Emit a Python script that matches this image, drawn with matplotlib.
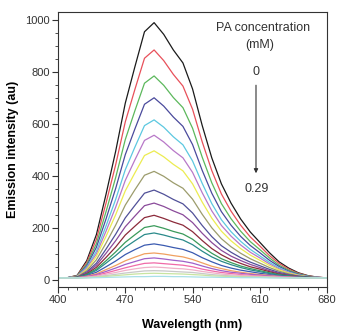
import matplotlib
matplotlib.use("Agg")
import matplotlib.pyplot as plt
from matplotlib.ticker import MultipleLocator

wavelength = list(range(400, 681, 10))

c01 = [8, 9, 18, 75, 175, 330, 495, 680, 820, 955, 990, 945, 885, 835, 735, 595, 470, 370, 296, 235, 185, 145, 105, 70, 46, 28, 17, 11, 8]
c02 = [8, 9, 17, 68, 157, 296, 443, 608, 733, 853, 885, 844, 791, 746, 657, 532, 421, 331, 265, 211, 166, 131, 94, 64, 42, 26, 16, 11, 8]
c03 = [8, 9, 16, 61, 140, 263, 394, 540, 651, 757, 785, 749, 702, 663, 584, 473, 374, 294, 236, 188, 148, 117, 85, 57, 38, 24, 15, 10, 8]
c04 = [8, 9, 15, 55, 126, 235, 352, 482, 581, 676, 701, 669, 627, 591, 521, 422, 334, 263, 211, 168, 133, 105, 76, 52, 34, 22, 14, 10, 8]
c05 = [8, 9, 14, 50, 111, 208, 310, 424, 511, 594, 616, 588, 551, 520, 458, 372, 294, 232, 186, 149, 118, 93, 68, 47, 31, 20, 14, 10, 8]
c06 = [8, 9, 14, 46, 101, 188, 280, 383, 462, 537, 557, 531, 498, 470, 414, 336, 266, 210, 169, 135, 107, 85, 62, 43, 29, 19, 13, 10, 8]
c07 = [8, 8, 13, 41, 91, 168, 251, 343, 412, 479, 497, 474, 445, 420, 370, 300, 238, 188, 151, 121, 96, 76, 56, 39, 27, 18, 12, 9, 8]
c08 = [8, 8, 12, 36, 78, 142, 211, 288, 347, 403, 418, 399, 374, 353, 311, 253, 201, 159, 128, 103, 82, 65, 48, 34, 24, 16, 12, 9, 8]
c09 = [8, 8, 11, 31, 65, 119, 176, 239, 287, 334, 346, 330, 310, 293, 258, 210, 167, 132, 107, 86, 69, 55, 41, 29, 21, 15, 11, 9, 8]
c10 = [8, 8, 11, 28, 57, 103, 151, 205, 246, 286, 296, 283, 266, 251, 221, 180, 144, 114, 92, 75, 60, 48, 36, 26, 19, 14, 11, 9, 8]
c11 = [8, 8, 10, 24, 49, 87, 127, 173, 207, 240, 249, 237, 223, 211, 186, 152, 121, 97, 78, 64, 51, 42, 32, 23, 17, 13, 10, 9, 8]
c12 = [8, 8, 10, 22, 42, 74, 108, 145, 174, 202, 209, 199, 187, 177, 157, 128, 103, 82, 67, 54, 44, 36, 28, 21, 16, 12, 10, 9, 8]
c13 = [8, 8, 10, 20, 37, 65, 94, 126, 151, 175, 181, 173, 163, 154, 136, 111, 89, 72, 59, 48, 39, 32, 25, 19, 15, 11, 10, 9, 8]
c14 = [8, 8, 9, 17, 30, 51, 73, 98, 117, 134, 139, 133, 125, 118, 105, 86, 70, 56, 46, 38, 32, 26, 21, 16, 13, 11, 9, 8, 8]
c15 = [8, 8, 9, 15, 24, 40, 56, 74, 88, 101, 104, 100, 94, 89, 79, 66, 53, 44, 36, 30, 25, 21, 18, 14, 12, 10, 9, 8, 8]
c16 = [8, 8, 9, 13, 21, 33, 46, 60, 71, 82, 85, 81, 76, 72, 65, 54, 44, 36, 30, 26, 22, 19, 16, 13, 11, 10, 9, 8, 8]
c17 = [8, 8, 9, 12, 18, 27, 37, 47, 56, 64, 66, 63, 60, 57, 51, 42, 35, 29, 25, 21, 18, 16, 14, 12, 10, 9, 9, 8, 8]
c18 = [8, 8, 8, 11, 15, 22, 29, 37, 43, 48, 50, 48, 45, 43, 39, 33, 28, 23, 20, 18, 16, 14, 12, 11, 10, 9, 8, 8, 8]
c19 = [8, 8, 8, 10, 13, 17, 22, 27, 31, 35, 36, 35, 33, 31, 29, 25, 21, 18, 16, 14, 13, 12, 11, 10, 9, 9, 8, 8, 8]
c20 = [8, 8, 8, 9, 11, 14, 17, 20, 23, 25, 26, 25, 24, 23, 21, 19, 16, 15, 13, 12, 11, 11, 10, 9, 9, 8, 8, 8, 8]
c21 = [8, 8, 8, 8, 9, 10, 11, 12, 13, 13, 14, 14, 13, 13, 12, 11, 11, 10, 10, 9, 9, 9, 8, 8, 8, 8, 8, 8, 8]

curves = [c01, c02, c03, c04, c05, c06, c07, c08, c09, c10, c11,
          c12, c13, c14, c15, c16, c17, c18, c19, c20, c21]

colors = ["#1a1a1a", "#e8505a", "#5cb85c", "#4a4a9c", "#5cc8e0", "#b878c8",
          "#ecec50", "#9c9c6c", "#505098", "#8a4a9a", "#8c2a3a", "#3a9a5a",
          "#2a8a8a", "#3a5ab0", "#f0a060", "#a060c8", "#f06aa8", "#f0b0c8",
          "#c8c8c8", "#c8e4a0", "#a8e0e8"]

x_ticks = [400, 470, 540, 610, 680]
y_ticks = [0, 200, 400, 600, 800, 1000]

plt.rcParams['font.family'] = ['Liberation Sans', 'DejaVu Sans']

fig = plt.figure(figsize=(3.39, 3.33), dpi=100)
ax = fig.add_axes([0.171, 0.138, 0.794, 0.826])

for ys, col in zip(curves, colors):
    ax.plot(wavelength, ys, color=col, lw=0.9)

ax.set_xlim(400, 680)
ax.set_ylim(-27, 1031)
ax.set_xticks(x_ticks)
ax.set_yticks(y_ticks)
ax.xaxis.set_minor_locator(MultipleLocator(10))
ax.yaxis.set_minor_locator(MultipleLocator(50))
ax.tick_params(which='major', direction='out', length=4, width=0.8, labelsize=8,
               colors='#333333', pad=2)
ax.tick_params(which='minor', direction='out', length=2, width=0.6, colors='#333333')
for sp in ax.spines.values():
    sp.set_color('#333333')
    sp.set_linewidth(0.8)

ax.set_xlabel('Wavelength (nm)', fontsize=9, fontweight='bold', labelpad=10)
ax.set_ylabel('Emission intensity (au)', fontsize=9, fontweight='bold', labelpad=4)

txt = dict(fontsize=9, ha='center', va='center', color='#333333')
ax.text(613, 969, 'PA concentration', **txt)
ax.text(610, 904, '(mM)', **txt)
ax.text(606, 800, '0', **txt)
ax.annotate('', xy=(606, 400), xytext=(606, 760),
            arrowprops=dict(arrowstyle='-|>', color='#333333', lw=0.8,
                            mutation_scale=6))
ax.text(607, 350, '0.29', **txt)

fig.savefig('out.png', dpi=100)
